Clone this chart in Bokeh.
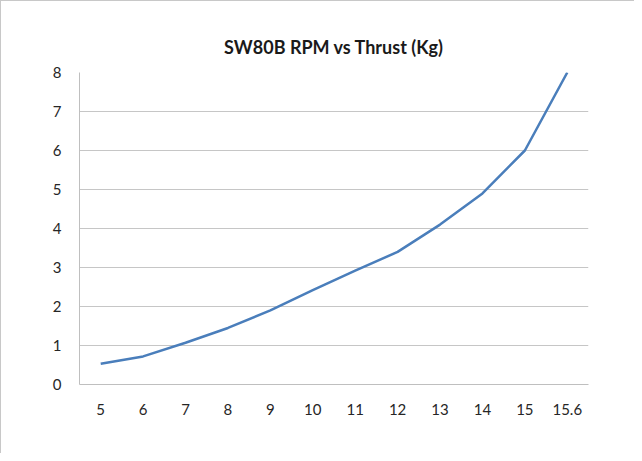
from bokeh.plotting import figure
from bokeh.models import FixedTicker, ColumnDataSource
from bokeh.embed import file_html
from bokeh.resources import INLINE

rpm = ["5", "6", "7", "8", "9", "10", "11", "12", "13", "14", "15", "15.6"]
thrust = [0.53, 0.72, 1.07, 1.45, 1.9, 2.42, 2.92, 3.4, 4.1, 4.9, 6.0, 8.0]
y_ticks = [0, 1, 2, 3, 4, 5, 6, 7, 8]
title_text = "SW80B RPM vs Thrust (Kg)"

src = ColumnDataSource(dict(x=rpm, y=thrust))

p = figure(width=634, height=453, x_range=rpm, y_range=(0, 8),
           output_backend="svg", toolbar_location=None,
           title=title_text,
           min_border_left=78, min_border_right=47,
           min_border_top=71, min_border_bottom=70)

p.title.align = "center"
p.title.text_font = "Lato"
p.title.text_font_size = "18px"
p.title.text_font_style = "bold"
p.title.text_color = "#1a1a1a"
p.title.standoff = 29

p.line("x", "y", source=src, line_color="#4a7ebb", line_width=2.5)

p.outline_line_color = None
p.background_fill_color = "white"
p.border_fill_color = "white"

p.xgrid.grid_line_color = None
p.ygrid.grid_line_color = "#c6c6c6"
p.ygrid.grid_line_width = 1
p.yaxis.ticker = FixedTicker(ticks=y_ticks)

for ax in (p.xaxis[0], p.yaxis[0]):
    ax.axis_line_color = "#bfbfbf"
    ax.axis_line_width = 1
    ax.major_tick_line_color = None
    ax.minor_tick_line_color = None
    ax.major_label_text_font = "Lato"
    ax.major_label_text_font_size = "15px"
    ax.major_label_text_color = "#262626"

p.yaxis.major_label_standoff = 12
p.xaxis.major_label_standoff = 13

p.styles = {"border-left": "1px solid #c8c8c8", "border-top": "1px solid #c8c8c8"}

open("out.html", "w").write(file_html(p, INLINE))
